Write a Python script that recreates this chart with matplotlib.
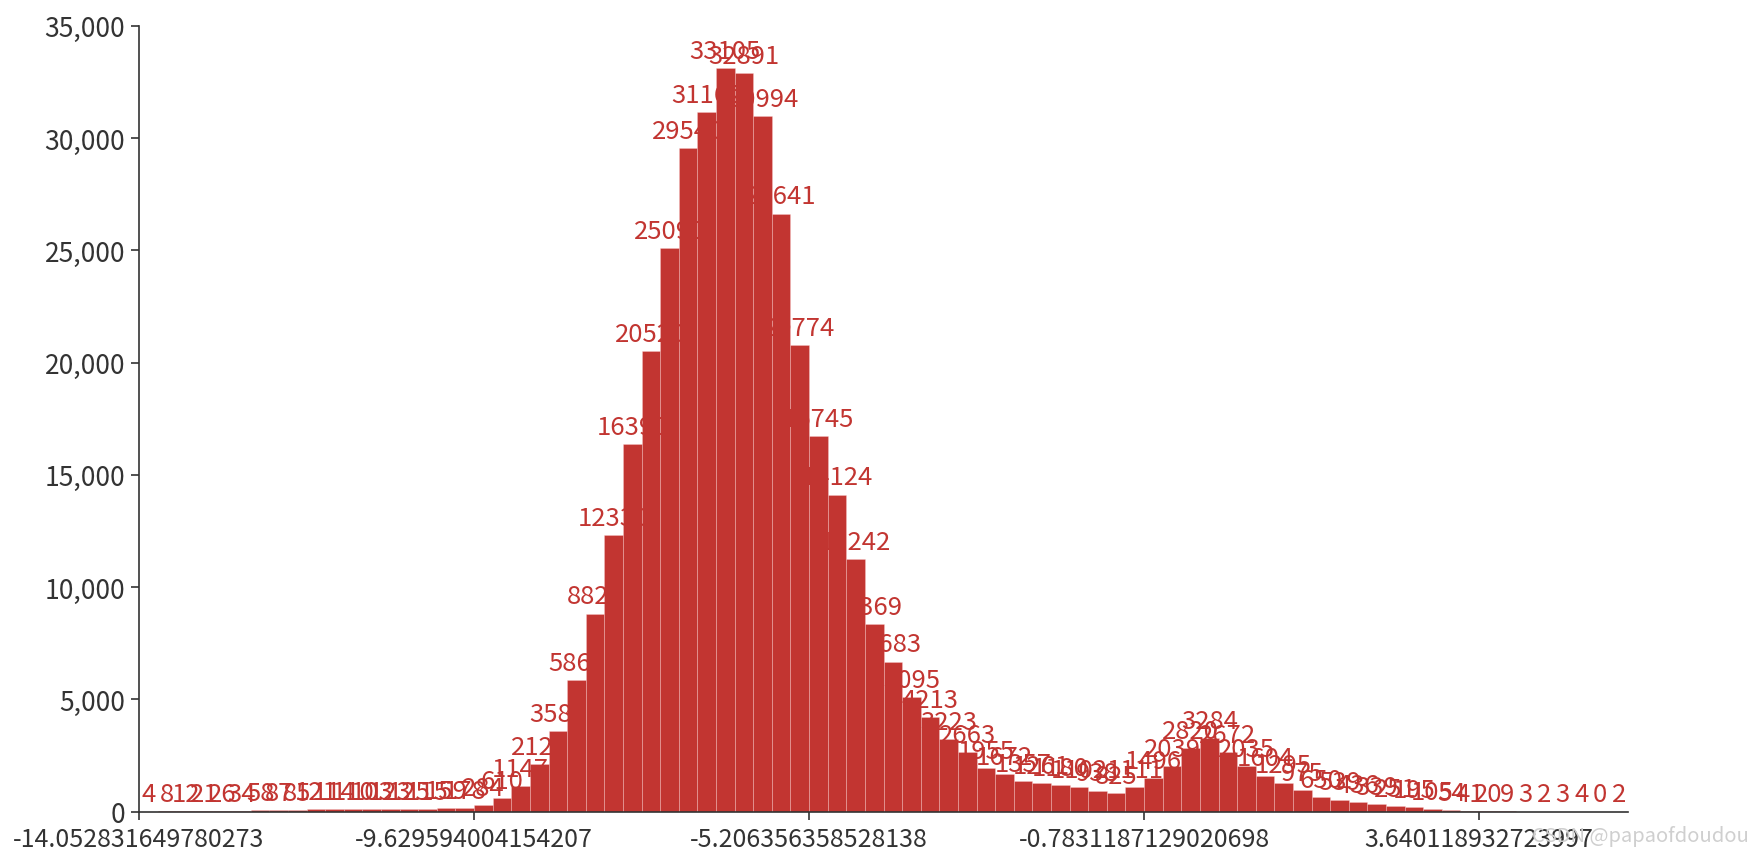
import matplotlib
matplotlib.use("Agg")
import matplotlib.pyplot as plt
from matplotlib.ticker import FuncFormatter
import numpy as np

plt.rcParams['font.family'] = ['Noto Sans CJK SC', 'DejaVu Sans']

# Histogram data: 80 bins
x_start = -14.052831649780273
x_tick2 = -9.629594004154207
bins_per_tick = 18
counts = [4, 8, 12, 21, 26, 34, 58, 87, 85, 121,
          114, 110, 103, 123, 125, 115, 159, 178, 284, 610,
          1147, 2128, 3580, 5860, 8820, 12330, 16390, 20520, 25090, 29540,
          31160, 33105, 32891, 30994, 26641, 20774, 16745, 14124, 11242, 8369,
          6683, 5095, 4213, 3223, 2663, 1955, 1672, 1357, 1261, 1180,
          1102, 938, 825, 1111, 1496, 2039, 2820, 3284, 2672, 2035,
          1604, 1295, 975, 650, 539, 436, 339, 251, 195, 105,
          54, 41, 20, 9, 3, 2, 3, 4, 0, 2]
xtick_labels = ["-14.052831649780273", "-9.629594004154207", "-5.206356358528138",
                "-0.7831187129020698", "3.640118932723997"]
y_ticks = [0, 5000, 10000, 15000, 20000, 25000, 30000, 35000]

bar_color = "#c23531"
text_color = "#333333"

width = (x_tick2 - x_start) / bins_per_tick
n = len(counts)
edges = x_start + width * np.arange(n + 1)

fig = plt.figure(figsize=(17.6, 8.54), dpi=100)
ax = fig.add_axes([0.079, 0.0484, 0.846, 0.9201])

bars = ax.bar(edges[:-1], counts, width=width, align='edge', color=bar_color,
              edgecolor=(1, 0.85, 0.85, 0.35), linewidth=0.6)
ax.bar_label(bars, labels=[str(c) for c in counts], padding=3, color=bar_color,
             fontsize=18.5)

ax.set_xlim(edges[0], edges[-1])
ax.set_ylim(0, 35000)
ax.set_xticks(edges[::bins_per_tick][:len(xtick_labels)])
ax.set_xticklabels(xtick_labels)
ax.set_yticks(y_ticks)
ax.yaxis.set_major_formatter(FuncFormatter(lambda v, p: f"{int(v):,}"))

for s in ['top', 'right']:
    ax.spines[s].set_visible(False)
for s in ['left', 'bottom']:
    ax.spines[s].set_color(text_color)
    ax.spines[s].set_linewidth(1.2)
ax.tick_params(axis='both', colors=text_color, length=6, width=1.2)
ax.tick_params(axis='x', pad=4, labelsize=18)
ax.tick_params(axis='y', pad=4, labelsize=19)

fig.text(0.932, 0.021, "CSDN @papaofdoudou", color="#cfcfcf", fontsize=14.5,
         ha='center', va='center')

fig.savefig("out.png", dpi=100)
